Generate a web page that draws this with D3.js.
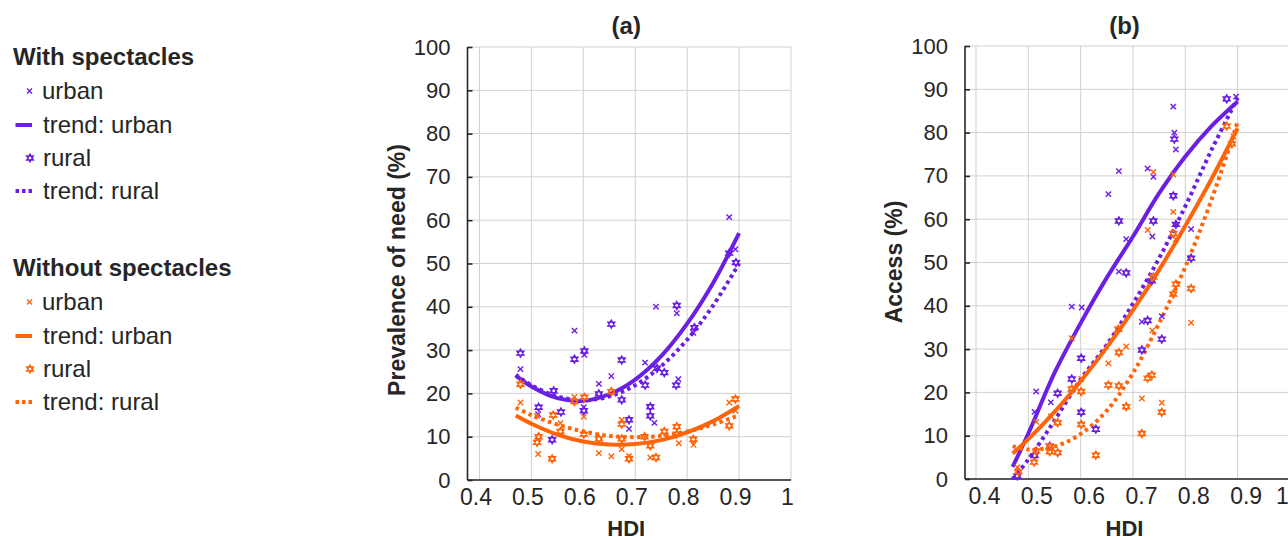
<!DOCTYPE html>
<html>
<head>
<meta charset="utf-8">
<script src="https://cdn.jsdelivr.net/npm/d3@7"></script>
<style>
  html, body { margin: 0; padding: 0; background: #ffffff; }
  svg { display: block; }
  text { font-family: "Liberation Sans", Arial, Helvetica, sans-serif; fill: #262626; }
</style>
</head>
<body>
<svg id="chart" width="1288" height="540"></svg>
<script>
// ---------------- DATA ----------------
const hdiTicks = [0.4, 0.5, 0.6, 0.7, 0.8, 0.9, 1];
const hdiTickLabels = ["0.4", "0.5", "0.6", "0.7", "0.8", "0.9", "1"];
const pctTicks = [0, 10, 20, 30, 40, 50, 60, 70, 80, 90, 100];

const panelTitles = ["(a)", "(b)"];
const yLabels = ["Prevalence of need (%)", "Access (%)"];
const xLabel = "HDI";

const legendGroups = ["With spectacles", "Without spectacles"];
const legendItems = ["urban", "trend: urban", "rural", "trend: rural"];

// Panel (a): prevalence of need, [HDI, %]
const aWithUrban = [[0.479,25.6],[0.583,34.5],[0.602,28.9],[0.654,24.0],[0.630,22.2],[0.719,27.1],[0.740,40.0],[0.780,38.5],[0.783,23.3],[0.737,13.2],[0.688,11.8],[0.513,15.2],[0.601,16.8],[0.881,60.7],[0.893,53.3],[0.812,34.0]];
const aWithRural = [[0.479,29.3],[0.583,27.9],[0.602,29.8],[0.654,36.0],[0.674,27.7],[0.780,40.3],[0.814,35.2],[0.742,25.8],[0.756,24.8],[0.779,21.9],[0.719,21.9],[0.674,18.5],[0.630,19.9],[0.543,20.6],[0.601,16.0],[0.557,15.7],[0.514,16.8],[0.729,16.9],[0.729,14.8],[0.688,13.9],[0.540,9.3],[0.881,52.4],[0.894,50.2]];
const aWithoutUrban = [[0.479,17.9],[0.583,19.2],[0.601,14.6],[0.556,13.1],[0.511,14.8],[0.513,6.0],[0.630,6.2],[0.654,5.5],[0.674,13.9],[0.674,7.1],[0.688,5.5],[0.729,5.2],[0.784,8.5],[0.812,8.1],[0.881,17.9],[0.893,16.0]];
const aWithoutRural = [[0.479,22.1],[0.583,18.1],[0.602,19.1],[0.654,20.4],[0.542,15.0],[0.556,11.2],[0.514,10.0],[0.511,8.7],[0.540,4.9],[0.601,10.6],[0.630,9.5],[0.674,12.9],[0.674,9.5],[0.688,4.9],[0.718,10.0],[0.729,7.9],[0.740,5.2],[0.756,11.2],[0.780,12.3],[0.780,10.6],[0.812,9.4],[0.893,18.7],[0.881,12.5]];
const aTrendWithUrban = [[0.47,24.1],[0.5,21.6],[0.55,18.9],[0.6,18.3],[0.65,19.8],[0.7,23.2],[0.75,28.6],[0.8,36.1],[0.85,45.5],[0.9,57.0]];
const aTrendWithRural = [[0.47,24.3],[0.5,21.9],[0.55,19.3],[0.6,18.4],[0.65,19.3],[0.7,21.9],[0.75,26.3],[0.8,32.4],[0.85,40.3],[0.9,50.0]];
const aTrendWithoutUrban = [[0.47,14.9],[0.5,13.0],[0.55,10.5],[0.6,8.9],[0.65,8.2],[0.7,8.3],[0.75,9.2],[0.8,11.0],[0.85,13.6],[0.9,17.1]];
const aTrendWithoutRural = [[0.47,16.7],[0.5,15.0],[0.55,12.8],[0.6,11.2],[0.65,10.2],[0.7,9.9],[0.75,10.2],[0.8,11.2],[0.85,12.8],[0.9,15.0]];

// Panel (b): access, [HDI, %]
const bWithUrban = [[0.897,88.3],[0.777,86.0],[0.779,80.0],[0.782,76.1],[0.673,71.1],[0.728,71.7],[0.739,69.8],[0.653,65.8],[0.737,56.0],[0.811,57.7],[0.687,55.4],[0.673,47.9],[0.583,39.8],[0.602,39.6],[0.717,36.3],[0.755,37.6],[0.515,20.2],[0.543,17.7],[0.512,15.5]];
const bWithRural = [[0.879,87.8],[0.779,78.5],[0.777,65.4],[0.673,59.6],[0.739,59.6],[0.782,58.8],[0.811,51.0],[0.687,47.6],[0.736,45.8],[0.728,36.6],[0.755,32.3],[0.717,29.8],[0.601,27.9],[0.583,23.1],[0.556,19.8],[0.601,15.4],[0.629,11.5],[0.541,7.6],[0.512,5.4],[0.479,0.7]];
const bWithoutUrban = [[0.892,79.1],[0.739,70.9],[0.777,70.3],[0.777,61.7],[0.728,57.5],[0.782,55.4],[0.811,36.1],[0.737,34.3],[0.583,32.5],[0.687,30.6],[0.653,26.7],[0.601,23.1],[0.717,18.6],[0.755,17.6],[0.515,13.2],[0.543,14.5],[0.479,2.7]];
const bWithoutRural = [[0.879,81.5],[0.889,77.4],[0.777,56.7],[0.739,46.7],[0.782,45.0],[0.777,42.7],[0.811,44.0],[0.672,34.6],[0.673,29.2],[0.583,20.8],[0.601,20.2],[0.653,21.7],[0.673,21.5],[0.728,23.3],[0.736,24.0],[0.755,15.4],[0.687,16.7],[0.601,12.6],[0.556,13.0],[0.717,10.5],[0.629,5.5],[0.515,6.5],[0.541,7.5],[0.541,6.3],[0.556,6.1],[0.511,3.9],[0.481,1.7]];
const bTrendWithUrban = [[0.47,2.8],[0.5,10.5],[0.55,24.5],[0.6,36.0],[0.65,46.5],[0.7,56.0],[0.75,66.0],[0.8,74.5],[0.85,81.5],[0.9,87.2]];
const bTrendWithRural = [[0.47,0.0],[0.5,4.5],[0.55,13.5],[0.6,23.0],[0.65,31.0],[0.7,40.5],[0.75,51.0],[0.8,63.0],[0.85,76.0],[0.9,88.0]];
const bTrendWithoutUrban = [[0.47,5.9],[0.5,9.2],[0.55,15.5],[0.6,22.6],[0.65,30.4],[0.7,39.0],[0.75,48.3],[0.8,58.5],[0.85,69.3],[0.9,81.0]];
const bTrendWithoutRural = [[0.47,7.6],[0.5,6.8],[0.55,7.5],[0.6,10.4],[0.65,15.8],[0.7,24.5],[0.75,36.0],[0.8,49.0],[0.85,64.5],[0.9,82.5]];

// ---------------- STYLE ----------------
const PURPLE = "#6a1fe3";
const ORANGE = "#ff6408";
const AXIS = "#262626";
const GRID = "#d0d0d0";
const FONT = '"Liberation Sans", Arial, sans-serif';

const svg = d3.select("#chart");

function crossPath(s) { return `M${-s},${-s}L${s},${s}M${-s},${s}L${s},${-s}`; }
function hexPath(r) {
  const pt = a => [r * Math.cos(a * Math.PI / 180), r * Math.sin(a * Math.PI / 180)];
  const tri = angs => "M" + angs.map(a => pt(a).join(",")).join("L") + "Z";
  return tri([-90, 30, 150]) + tri([90, 210, 330]);
}

const panels = [
  { left: 467.5, right: 791, top: 47, bottom: 480, dom: [0.377, 1.0], labelDx: -4, ylabY: 270,
    title: panelTitles[0], ylab: yLabels[0],
    series: [aWithUrban, aWithRural, aWithoutUrban, aWithoutRural],
    trends: [aTrendWithUrban, aTrendWithRural, aTrendWithoutUrban, aTrendWithoutRural] },
  { left: 965, right: 1290, top: 46, bottom: 479, dom: [0.379, 1.0], labelDx: 8, ylabY: 262,
    title: panelTitles[1], ylab: yLabels[1],
    series: [bWithUrban, bWithRural, bWithoutUrban, bWithoutRural],
    trends: [bTrendWithUrban, bTrendWithRural, bTrendWithoutUrban, bTrendWithoutRural] }
];

panels.forEach(p => {
  const x = d3.scaleLinear().domain(p.dom).range([p.left, p.right]);
  const y = d3.scaleLinear().domain([0, 100]).range([p.bottom, p.top]);
  const g = svg.append("g");

  // grid
  g.append("g").selectAll("line").data(hdiTicks).join("line")
    .attr("x1", d => x(d)).attr("x2", d => x(d))
    .attr("y1", p.top).attr("y2", p.bottom)
    .attr("stroke", GRID).attr("stroke-width", 1);
  g.append("g").selectAll("line").data(pctTicks).join("line")
    .attr("x1", p.left).attr("x2", p.right)
    .attr("y1", d => y(d)).attr("y2", d => y(d))
    .attr("stroke", GRID).attr("stroke-width", 1);

  // axes
  const yAxis = d3.axisLeft(y).tickValues(pctTicks).tickSize(-5).tickPadding(17).tickFormat(d3.format("d"));
  const ya = g.append("g").attr("transform", `translate(${p.left},0)`).call(yAxis);
  ya.select(".domain").attr("stroke", AXIS).attr("stroke-width", 1.6).attr("d", `M0,${p.top}V${p.bottom}`);
  ya.selectAll(".tick line").attr("stroke", AXIS).attr("stroke-width", 1.6);
  ya.selectAll(".tick text").attr("font-size", 22).attr("fill", AXIS).style("font-family", FONT);

  const xAxis = d3.axisBottom(x).tickValues(hdiTicks).tickSize(0).tickPadding(9)
    .tickFormat((d, i) => hdiTickLabels[i]);
  const xa = g.append("g").attr("transform", `translate(0,${p.bottom})`).call(xAxis);
  xa.select(".domain").attr("stroke", AXIS).attr("stroke-width", 1.6).attr("d", `M${p.left},0H${p.right}`);
  xa.selectAll(".tick text").attr("font-size", 23).attr("fill", AXIS)
    .attr("dx", d => Math.min(x(d) + p.labelDx, 1282) - x(d))
    .style("font-family", FONT);

  // trends
  const line = d3.line().x(d => x(d[0])).y(d => y(d[1])).curve(d3.curveCatmullRom);
  const colors = [PURPLE, PURPLE, ORANGE, ORANGE];
  const dashed = [false, true, false, true];
  p.trends.forEach((t, i) => {
    g.append("path").datum(t).attr("d", line)
      .attr("fill", "none").attr("stroke", colors[i]).attr("stroke-width", 4)
      .attr("stroke-dasharray", dashed[i] ? "3.5,3.5" : null);
  });

  // markers
  p.series.forEach((s, i) => {
    const isRural = (i % 2 === 1);
    g.append("g").selectAll("path").data(s).join("path")
      .attr("transform", d => `translate(${x(d[0])},${y(d[1])})`)
      .attr("d", isRural ? hexPath(4) : crossPath(2.7))
      .attr("fill", "none").attr("stroke", colors[i]).attr("stroke-width", 1.4);
  });

  // titles & labels
  const cx = (p.left + x(1.0)) / 2;
  svg.append("text").attr("x", cx - 3).attr("y", 34).attr("text-anchor", "middle")
    .attr("font-size", 24).attr("font-weight", "bold").text(p.title);
  svg.append("text").attr("x", cx - 3).attr("y", 536).attr("text-anchor", "middle")
    .attr("font-size", 22).attr("font-weight", "bold").text(xLabel);
  svg.append("text")
    .attr("transform", `translate(${p.left - 63},${p.ylabY}) rotate(-90)`)
    .attr("text-anchor", "middle").attr("font-size", 23).attr("font-weight", "bold").text(p.ylab);
});

// ---------------- LEGEND ----------------
const legend = svg.append("g");
const groupY = [57, 268];
const itemOffsets = [34, 68, 101, 134];
const groupColors = [PURPLE, ORANGE];
legendGroups.forEach((name, gi) => {
  legend.append("text").attr("x", 13).attr("y", groupY[gi]).attr("dy", "0.35em")
    .attr("font-size", 24).attr("font-weight", "bold").text(name);
  legendItems.forEach((item, ii) => {
    const yy = groupY[gi] + itemOffsets[ii];
    const c = groupColors[gi];
    if (ii === 0) {
      legend.append("path").attr("transform", `translate(29.5,${yy})`).attr("d", crossPath(2.5))
        .attr("fill", "none").attr("stroke", c).attr("stroke-width", 1.4);
    } else if (ii === 2) {
      legend.append("path").attr("transform", `translate(30,${yy})`).attr("d", hexPath(3.9))
        .attr("fill", "none").attr("stroke", c).attr("stroke-width", 1.4);
    } else {
      legend.append("line").attr("x1", 15.5).attr("x2", 32).attr("y1", yy).attr("y2", yy)
        .attr("stroke", c).attr("stroke-width", 4)
        .attr("stroke-dasharray", ii === 3 ? "3.5,3" : null);
    }
    legend.append("text").attr("x", ii === 0 ? 42 : 43).attr("y", yy).attr("dy", "0.35em")
      .attr("font-size", 24).text(item);
  });
});
</script>
</body>
</html>
